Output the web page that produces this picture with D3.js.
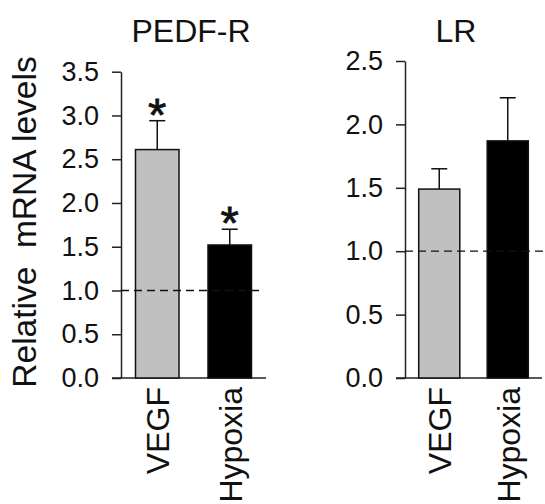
<!DOCTYPE html>
<html>
<head>
<meta charset="utf-8">
<script src="https://cdn.jsdelivr.net/npm/d3@7"></script>
<style>
    body { margin: 0; background: #fff; }
    svg text { font-family: "Liberation Sans", Arial, sans-serif; fill: #111; }
</style>
</head>
<body>
<div id="chart"></div>
<script>
// values
const categories = ["VEGF", "Hypoxia"];
const barColors = ["#c0c0c0", "#000000"];

const pedfValues = [2.61, 1.52];
const pedfErrors = [0.33, 0.18];
const pedfSignificant = [true, true];
const pedfTicks = [0, 0.5, 1, 1.5, 2, 2.5, 3, 3.5];

const lrValues = [1.49, 1.87];
const lrErrors = [0.16, 0.34];
const lrSignificant = [false, false];
const lrTicks = [0, 0.5, 1, 1.5, 2, 2.5];

const referenceLevel = 1.0;

let svg = d3.select("#chart")
    .append("svg")
    .attr("width", 545)
    .attr("height", 504);

// y axis title shared by both panels
svg.append("text")
    .attr("transform", "translate(36, 222) rotate(-90)")
    .attr("text-anchor", "middle")
    .style("font-size", "33.5px")
    .style("white-space", "pre")
    .text("Relative  mRNA levels");

DrawPanel(svg, {
    title: "PEDF-R",
    titleX: 191,
    values: pedfValues,
    errors: pedfErrors,
    significant: pedfSignificant,
    ticks: pedfTicks,
    xRange: [121, 266],
    yTop: 71.7,
    dashEnd: 262
});

DrawPanel(svg, {
    title: "LR",
    titleX: 456,
    values: lrValues,
    errors: lrErrors,
    significant: lrSignificant,
    ticks: lrTicks,
    xRange: [405, 542],
    yTop: 61,
    dashEnd: 545
});

function DrawPanel(container, cfg) {
    let yMax = cfg.ticks[cfg.ticks.length - 1];
    let y = d3.scaleLinear().domain([0, yMax]).range([378, cfg.yTop]);
    let x = d3.scaleBand()
        .domain(categories)
        .range(cfg.xRange)
        .paddingInner(0.4)
        .paddingOuter(0.2);

    let g = container.append("g");

    g.append("text")
        .attr("x", cfg.titleX)
        .attr("y", 42)
        .attr("text-anchor", "middle")
        .style("font-size", "32px")
        .text(cfg.title);

    let axis = g.append("g")
        .attr("transform", `translate(${cfg.xRange[0]},0)`)
        .call(d3.axisLeft(y)
            .tickValues(cfg.ticks)
            .tickFormat(d3.format(".1f"))
            .tickSize(9)
            .tickSizeOuter(0)
            .tickPadding(13));
    axis.select(".domain").attr("stroke", "#222").attr("stroke-width", 1.5);
    axis.selectAll(".tick line").attr("stroke", "#222").attr("stroke-width", 1.5);
    axis.selectAll(".tick text")
        .style("font-size", "27px")
        .style("font-family", "'Liberation Sans', Arial, sans-serif")
        .attr("fill", "#222");

    // baseline
    g.append("line")
        .attr("x1", cfg.xRange[0] - 9)
        .attr("x2", cfg.xRange[1])
        .attr("y1", y(0))
        .attr("y2", y(0))
        .attr("stroke", "#222")
        .attr("stroke-width", 1.5);

    let rows = categories.map((c, i) => ({
        cat: c, value: cfg.values[i], err: cfg.errors[i], sig: cfg.significant[i], color: barColors[i]
    }));

    // error bars (upper only)
    let cap = 8;
    rows.forEach(d => {
        let cx = x(d.cat) + x.bandwidth() / 2;
        g.append("line")
            .attr("x1", cx).attr("x2", cx)
            .attr("y1", y(d.value)).attr("y2", y(d.value + d.err))
            .attr("stroke", "#111").attr("stroke-width", 1.5);
        g.append("line")
            .attr("x1", cx - cap).attr("x2", cx + cap)
            .attr("y1", y(d.value + d.err)).attr("y2", y(d.value + d.err))
            .attr("stroke", "#111").attr("stroke-width", 1.5);
        if (d.sig) {
            g.append("text")
                .attr("x", cx)
                .attr("y", y(d.value + d.err) + 10)
                .attr("text-anchor", "middle")
                .style("font-size", "47px")
                .attr("stroke", "#111")
                .attr("stroke-width", 0.8)
                .text("*");
        }
    });

    g.selectAll(".bar")
        .data(rows)
        .enter()
        .append("rect")
        .attr("class", "bar")
        .attr("x", d => x(d.cat))
        .attr("y", d => y(d.value))
        .attr("width", x.bandwidth())
        .attr("height", d => y(0) - y(d.value))
        .attr("fill", d => d.color)
        .attr("stroke", "#111")
        .attr("stroke-width", 1.5);

    // reference line at 1.0
    g.append("line")
        .attr("x1", cfg.xRange[0])
        .attr("x2", cfg.dashEnd)
        .attr("y1", y(referenceLevel))
        .attr("y2", y(referenceLevel))
        .attr("stroke", "#111")
        .attr("stroke-width", 1.3)
        .attr("stroke-dasharray", "8,5");

    // category labels, rotated
    rows.forEach(d => {
        let cx = x(d.cat) + x.bandwidth() / 2;
        g.append("text")
            .attr("transform", `translate(${cx + 12},387) rotate(-90)`)
            .attr("text-anchor", "end")
            .style("font-size", "32px")
            .text(d.cat);
    });
}
</script>
</body>
</html>
